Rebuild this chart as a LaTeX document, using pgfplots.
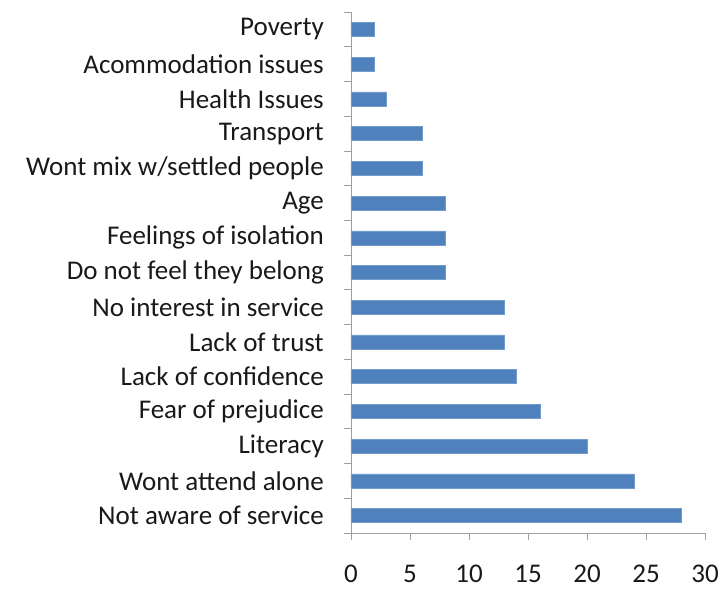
\documentclass[border=0pt]{standalone}
\usepackage{fontspec}
\setmainfont{Carlito}
\usepackage{pgfplots}
\pgfplotsset{compat=1.18}
\definecolor{barblue}{HTML}{4F81BD}
\definecolor{axgray}{HTML}{A0A0A0}
\begin{document}
\fontsize{27}{32}\selectfont
\begin{tikzpicture}
\useasboundingbox (-351pt,-56pt) rectangle (369pt,533pt);
\begin{axis}[
  at={(0,0)}, anchor=south west,
  scale only axis,
  width=354pt, height=521pt,
  xmin=0, xmax=30,
  ymin=-0.5, ymax=14.5,
  axis x line*=bottom, axis y line*=left,
  axis line style={axgray, line width=0.8pt, -},
  xtick={0,5,...,30},
  ytick={0,...,14},
  yticklabels={Not aware of service,Wont attend alone,Literacy,Fear of prejudice,Lack of confidence,Lack of trust,No interest in service,Do not feel they belong,Feelings of isolation,Age,Wont mix w/settled people\ ,Transport,Health Issues,Acommodation issues,Poverty},
  major y tick style={draw=none},
  minor ytick={-0.5,0.5,...,14.5},
  minor y tick style={axgray, line width=0.8pt},
  minor tick length=7pt,
  major x tick style={axgray, line width=0.8pt},
  major tick length=7pt,
  tick align=outside,
  xticklabel style={font=\fontsize{27}{32}\selectfont, yshift=-16pt, text=black!90},
  yticklabel style={font=\fontsize{27}{32}\selectfont, xshift=-11pt, text=black!90},
  /pgf/number format/assume math mode=true,
  xbar, bar width=14pt,
]
\addplot[fill=barblue, draw=barblue!80!white] coordinates {
(28,0) (24,1) (20,2) (16,3) (14,4) (13,5) (13,6) (8,7) (8,8) (8,9) (6,10) (6,11) (3,12) (2,13) (2,14)};
\end{axis}
\end{tikzpicture}
\end{document}
